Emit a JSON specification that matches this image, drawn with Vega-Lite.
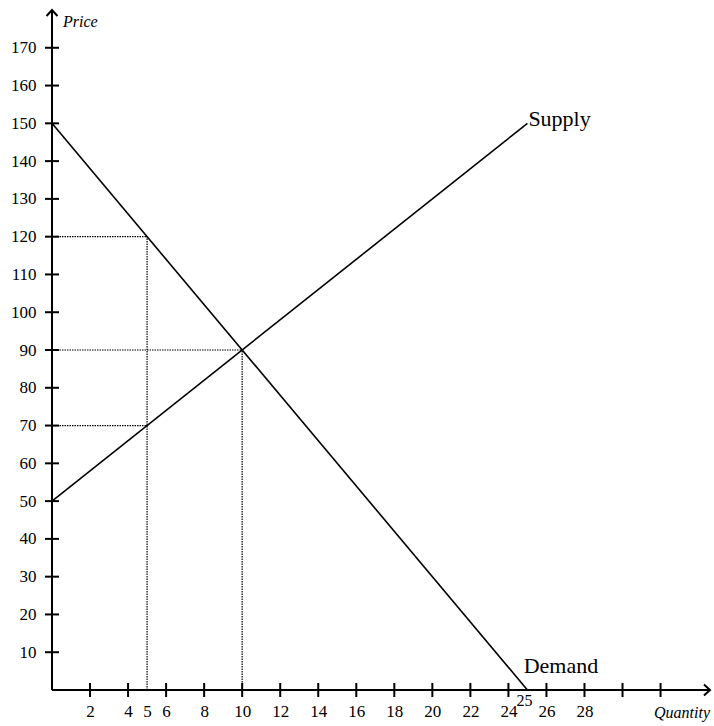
{
  "$schema": "https://vega.github.io/schema/vega-lite/v6.json",
  "width": 658,
  "height": 680,
  "autosize": {"type": "none"},
  "padding": {"left": 52, "top": 10, "right": 4, "bottom": 36},
  "background": "white",
  "config": {
    "view": {"stroke": null},
    "font": "Liberation Serif"
  },
  "datasets": {
    "axes": [
      {"x": 0, "y": 0, "x2": 34.6, "y2": 0},
      {"x": 0, "y": 0, "x2": 0, "y2": 180}
    ],
    "guides": [
      {"x": 0, "y": 120, "x2": 5, "y2": 120},
      {"x": 0, "y": 90, "x2": 10, "y2": 90},
      {"x": 0, "y": 70, "x2": 5, "y2": 70},
      {"x": 5, "y": 0, "x2": 5, "y2": 120},
      {"x": 10, "y": 0, "x2": 10, "y2": 90}
    ],
    "curves": [
      {"curve": "Supply", "x": 0, "y": 50},
      {"curve": "Supply", "x": 25, "y": 150},
      {"curve": "Demand", "x": 0, "y": 150},
      {"curve": "Demand", "x": 25, "y": 0}
    ],
    "xticks": [
      {"x": 2, "y": 0}, {"x": 4, "y": 0}, {"x": 6, "y": 0}, {"x": 8, "y": 0}, {"x": 10, "y": 0}, {"x": 12, "y": 0}, {"x": 14, "y": 0}, {"x": 16, "y": 0},
      {"x": 18, "y": 0}, {"x": 20, "y": 0}, {"x": 22, "y": 0}, {"x": 24, "y": 0}, {"x": 26, "y": 0}, {"x": 28, "y": 0}, {"x": 30, "y": 0}, {"x": 32, "y": 0}
    ],
    "yticks": [
      {"x": 0, "y": 10}, {"x": 0, "y": 20}, {"x": 0, "y": 30}, {"x": 0, "y": 40}, {"x": 0, "y": 50}, {"x": 0, "y": 60}, {"x": 0, "y": 70}, {"x": 0, "y": 80}, {"x": 0, "y": 90},
      {"x": 0, "y": 100}, {"x": 0, "y": 110}, {"x": 0, "y": 120}, {"x": 0, "y": 130}, {"x": 0, "y": 140}, {"x": 0, "y": 150}, {"x": 0, "y": 160}, {"x": 0, "y": 170}
    ],
    "arrowUp": [
      {"x": 0, "y": 180}
    ],
    "arrowRight": [
      {"x": 34.6, "y": 0}
    ],
    "supply": [
      {"x": 25.05, "y": 149.2, "text": "Supply"}
    ],
    "demand": [
      {"x": 24.8, "y": 4.5, "text": "Demand"}
    ],
    "price": [
      {"x": 0.58, "y": 175.4, "text": "Price"}
    ],
    "quantity": [
      {"x": 34.6, "y": -7.4, "text": "Quantity"}
    ],
    "small": [
      {"x": 24.85, "y": -4.3, "text": "25"}
    ]
  },
  "encoding": {
    "x": {"field": "x", "type": "quantitative", "scale": {"domain": [0, 34.6], "nice": false, "zero": false},
          "axis": {"values": [2, 4, 5, 6, 8, 10, 12, 14, 16, 18, 20, 22, 24, 26, 28], "title": null, "domain": false, "ticks": false, "grid": false,
                   "labelFont": "Liberation Serif", "labelFontSize": 17, "labelColor": "black", "labelPadding": 13, "labelFlush": false}},
    "y": {"field": "y", "type": "quantitative", "scale": {"domain": [0, 180], "nice": false, "zero": false},
          "axis": {"values": [10, 20, 30, 40, 50, 60, 70, 80, 90, 100, 110, 120, 130, 140, 150, 160, 170], "title": null, "domain": false, "ticks": false, "grid": false,
                   "labelFont": "Liberation Serif", "labelFontSize": 17, "labelColor": "black", "labelPadding": 16, "labelFlush": false}}
  },
  "layer": [
    {
      "data": {"name": "guides"},
      "mark": {"type": "rule", "strokeDash": [1.5, 1], "strokeWidth": 1.2, "color": "black"},
      "encoding": {
        "x2": {"field": "x2"},
        "y2": {"field": "y2"}
      }
    },
    {
      "data": {"name": "axes"},
      "mark": {"type": "rule", "strokeWidth": 2, "color": "black"},
      "encoding": {
        "x2": {"field": "x2"},
        "y2": {"field": "y2"}
      }
    },
    {
      "data": {"name": "curves"},
      "mark": {"type": "line", "strokeWidth": 1.6, "color": "black"},
      "encoding": {
        "detail": {"field": "curve"}
      }
    },
    {
      "data": {"name": "xticks"},
      "mark": {"type": "tick", "orient": "vertical", "size": 14, "thickness": 2, "color": "black", "opacity": 1},
      "encoding": {}
    },
    {
      "data": {"name": "yticks"},
      "mark": {"type": "tick", "orient": "horizontal", "size": 14, "thickness": 2, "color": "black", "opacity": 1},
      "encoding": {}
    },
    {
      "data": {"name": "arrowUp"},
      "mark": {"type": "point", "shape": "M-1,1.1L0,0L1,1.1", "size": 120, "filled": false, "stroke": "black", "strokeWidth": 2, "opacity": 1},
      "encoding": {}
    },
    {
      "data": {"name": "arrowRight"},
      "mark": {"type": "point", "shape": "M-1.1,-1L0,0L-1.1,1", "size": 120, "filled": false, "stroke": "black", "strokeWidth": 2, "opacity": 1},
      "encoding": {}
    },
    {
      "data": {"name": "supply"},
      "mark": {"type": "text", "align": "left", "baseline": "alphabetic", "fontSize": 22, "letterSpacing": 1, "font": "Liberation Serif", "color": "black"},
      "encoding": {
        "text": {"field": "text"}
      }
    },
    {
      "data": {"name": "demand"},
      "mark": {"type": "text", "align": "left", "baseline": "alphabetic", "fontSize": 22, "letterSpacing": 0.5, "font": "Liberation Serif", "color": "black"},
      "encoding": {
        "text": {"field": "text"}
      }
    },
    {
      "data": {"name": "price"},
      "mark": {"type": "text", "align": "left", "baseline": "alphabetic", "fontSize": 16, "letterSpacing": 1, "fontStyle": "italic", "font": "Liberation Serif", "color": "black"},
      "encoding": {
        "text": {"field": "text"}
      }
    },
    {
      "data": {"name": "quantity"},
      "mark": {"type": "text", "align": "right", "baseline": "alphabetic", "fontSize": 16, "letterSpacing": 1.3, "fontStyle": "italic", "font": "Liberation Serif", "color": "black"},
      "encoding": {
        "text": {"field": "text"}
      }
    },
    {
      "data": {"name": "small"},
      "mark": {"type": "text", "align": "center", "baseline": "alphabetic", "fontSize": 16, "font": "Liberation Serif", "color": "black"},
      "encoding": {
        "text": {"field": "text"}
      }
    }
  ]
}
